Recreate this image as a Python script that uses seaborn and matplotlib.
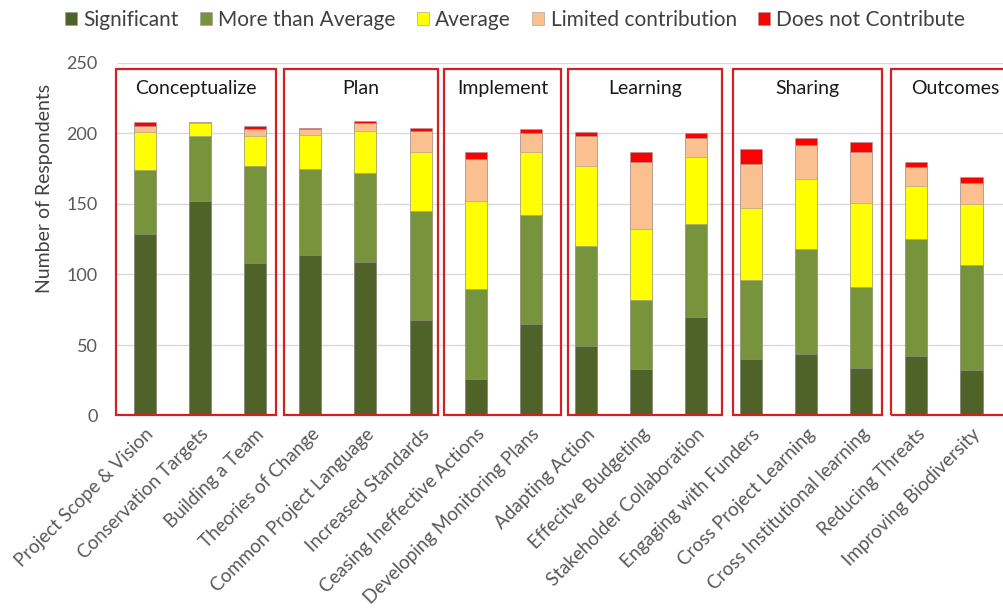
import matplotlib
matplotlib.use("Agg")
import matplotlib.pyplot as plt
from matplotlib.patches import Patch, Rectangle
import numpy as np
import pandas as pd
import seaborn as sns

categories = ["Project Scope & Vision", "Conservation Targets", "Building a Team",
              "Theories of Change", "Common Project Language", "Increased Standards",
              "Ceasing Ineffective Actions", "Developing Monitoring Plans",
              "Adapting Action", "Effecitve Budgeting", "Stakeholder Collaboration",
              "Engaging with Funders", "Cross Project Learning", "Cross Institutional learning",
              "Reducing Threats", "Improving Biodiversity"]

series_names = ["Significant", "More than Average", "Average",
                "Limited contribution", "Does not Contribute"]

significant = [129, 152, 108, 114, 109, 68, 26, 65, 49, 33, 70, 40, 44, 34, 42, 32]
more_than_avg = [45, 46, 69, 61, 63, 77, 64, 77, 71, 49, 66, 56, 74, 57, 83, 75]
average = [27, 9, 21, 24, 30, 42, 62, 45, 57, 50, 47, 51, 50, 60, 38, 43]
limited = [4, 1, 5, 4, 5, 15, 30, 13, 21, 48, 14, 31, 24, 36, 13, 15]
not_contrib = [3, 0, 2, 1, 2, 2, 5, 3, 3, 7, 3, 11, 5, 7, 4, 4]

group_names = ["Conceptualize", "Plan", "Implement", "Learning", "Sharing", "Outcomes"]
group_first = [0, 3, 6, 8, 11, 14]
group_last = [2, 5, 7, 10, 13, 15]

colors = ["#4F6228", "#77933C", "#FFFF00", "#FAC090", "#FF0000"]

sns.set_theme(style="white")
plt.rcParams["font.family"] = ["Lato", "DejaVu Sans"]

fig = plt.figure(figsize=(10.04, 6.12), dpi=100)
ax = fig.add_axes([117 / 1004, (612 - 415.6) / 612, (1004 - 117) / 1004, (415.6 - 62.8) / 612])

series = [significant, more_than_avg, average, limited, not_contrib]
cum = np.cumsum(np.array(series), axis=0)
df = pd.DataFrame({"cat": categories})
# draw from the top layer down so that each lower layer covers the upper ones
for i in range(len(series) - 1, -1, -1):
    df["val"] = cum[i]
    sns.barplot(data=df, x="cat", y="val", order=categories, color=colors[i],
                saturation=1, width=0.4, ax=ax, edgecolor="#9a9a9a",
                linewidth=0.4, zorder=3)

ax.set_xlim(-0.51, 15.59)
ax.set_ylim(0, 250)
ax.set_yticks([0, 50, 100, 150, 200, 250])
ax.yaxis.grid(True, color="#D9D9D9", linewidth=1)
ax.set_axisbelow(True)
for s in ax.spines.values():
    s.set_visible(False)

ax.set_xlabel("")
ax.set_ylabel("Number of Respondents", fontsize=14, color="#404040")
ax.yaxis.set_label_coords(-0.072, 0.645)
ax.tick_params(axis="y", length=0, pad=14, labelsize=13, labelcolor="#595959")
ax.tick_params(axis="x", length=0, pad=7, labelsize=13.5, labelcolor="#595959")
plt.setp(ax.get_xticklabels(), rotation=45, ha="right", rotation_mode="anchor")

# group boxes
box_left_pad = [0.53, 0.48, 0.57, 0.32, 0.33, 0.46]
box_right_pad = [0.38, 0.32, 0.55, 0.47, 0.37, 0.86]
for name, a, b, lp, rp in zip(group_names, group_first, group_last, box_left_pad, box_right_pad):
    x0 = a - lp
    x1 = b + rp
    rect = Rectangle((x0, 0.4), x1 - x0, 245.0, fill=False, edgecolor="#D42020",
                     linewidth=1.6, clip_on=False, zorder=5)
    ax.add_patch(rect)
    ax.text((x0 + x1) / 2, 232, name, ha="center", va="center", fontsize=14,
            color="#1a1a1a", zorder=6)

handles = [Patch(facecolor=c, edgecolor="#9a9a9a", linewidth=0.4) for c in colors]
fig.legend(handles, series_names, loc="center", bbox_to_anchor=(515 / 1004, 1 - 20 / 612),
           ncol=5, frameon=False, fontsize=15, handlelength=0.6, handleheight=0.6,
           handletextpad=0.3, columnspacing=1.0, labelcolor="#404040")

fig.savefig("out.png", dpi=100)
